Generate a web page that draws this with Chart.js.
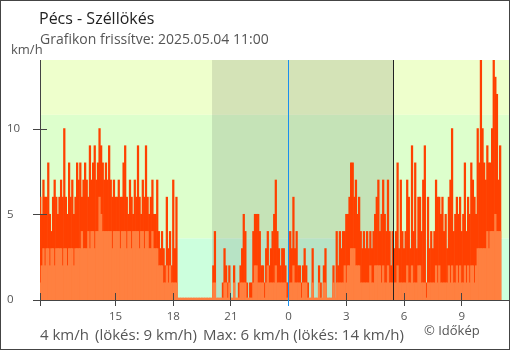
<!DOCTYPE html>
<html>
<head>
<meta charset="utf-8">
<script src="https://cdn.jsdelivr.net/npm/chart.js@4.4.1/dist/chart.umd.min.js"></script>
<style>
  html, body { margin: 0; padding: 0; background: #fff; }
  #wrap { position: relative; width: 510px; height: 350px; overflow: hidden; font-family: "Open Sans", sans-serif; color: #555; }
  #wrap canvas { position: absolute; left: 0; top: 0; }
  .txt { position: absolute; white-space: pre; line-height: 1; }
  #frame { position: absolute; left: 0; top: 0; width: 510px; height: 350px; box-sizing: border-box; border: 1px solid #444; pointer-events: none; }
</style>
</head>
<body>
<div id="wrap">
  <canvas id="chart" width="510" height="350"></canvas>
  <div class="txt" style="left:39px; top:10px; font-size:16px; color:#222;">Pécs - Széllökés</div>
  <div class="txt" style="left:40px; top:32px; font-size:14px;">Grafikon frissítve: 2025.05.04 11:00</div>
  <div class="txt" style="left:11px; top:43px; font-size:13px;">km/h</div>
  <div class="txt" style="left:40px; top:327px; font-size:15px;">4 km/h</div>
  <div class="txt" style="left:95px; top:327px; font-size:15px;">(lökés: 9 km/h)</div>
  <div class="txt" style="left:203px; top:327px; font-size:15px;">Max: 6 km/h (lökés: 14 km/h)</div>
  <div class="txt" style="left:424px; top:324px; font-size:13px;">© Időkép</div>
  <div id="frame"></div>
</div>
<script>
// 5-minute readings, from 11:05 (03 May) to 11:00 (04 May), one row per hour
const gust = [
  6,5,7,6,6,8,5,4,6,7,6,5,
  6,7,6,10,6,5,8,6,7,5,6,8,
  7,8,6,7,8,7,6,9,7,8,9,7,
  8,10,9,8,7,8,7,9,7,6,7,6,
  6,7,6,6,8,9,6,5,7,6,5,7,
  6,9,6,5,7,6,9,6,5,6,7,5,
  5,7,4,3,4,3,2,6,3,4,2,7,
  3,6,0,0,0,0,0,0,0,0,0,0,
  0,0,0,0,0,0,0,0,0,0,0,0,
  2,4,0,0,0,0,1,3,2,1,2,0,
  0,2,0,0,1,2,3,5,4,1,0,1,
  1,4,5,5,5,4,2,2,1,3,4,2,
  3,4,5,7,4,3,2,3,3,2,1,1,
  4,3,6,3,4,2,2,1,2,3,2,1,
  0,0,3,0,0,0,2,1,0,2,3,0,
  0,0,0,2,0,4,2,4,3,4,4,5,
  5,6,8,8,6,7,5,6,4,3,4,3,
  4,3,4,3,4,5,6,7,4,5,7,5,
  4,7,4,2,4,3,4,8,3,7,4,3,
  4,7,6,3,9,4,8,3,6,6,4,7,
  9,1,6,3,4,3,4,7,6,6,5,6,
  4,5,3,6,7,10,4,5,6,5,6,4,
  5,8,4,6,5,8,7,6,5,10,8,14,
  10,8,7,9,8,8,10,14,13,12,7,9
];
const wind = [
  1,2,3,2,3,3,2,3,3,2,3,3,
  3,3,2,3,3,2,3,3,3,2,3,3,
  3,3,4,3,3,3,4,3,4,4,3,4,
  4,6,5,4,4,4,4,4,4,3,4,4,
  4,4,3,4,4,4,3,4,4,3,4,4,
  4,4,3,4,4,3,4,4,3,3,4,3,
  3,3,2,2,2,1,1,2,1,2,1,1,
  1,1,0,0,0,0,0,0,0,0,0,0,
  0,0,0,0,0,0,0,0,0,0,0,0,
  1,1,0,0,0,0,0,1,1,0,1,0,
  0,1,0,0,0,1,1,1,1,0,0,0,
  0,1,2,2,1,1,1,1,0,1,2,1,
  1,1,1,2,1,1,1,1,1,1,0,0,
  1,1,2,1,1,1,1,0,1,1,1,0,
  0,0,1,0,0,0,1,0,0,1,1,0,
  0,0,0,1,0,1,1,1,1,1,2,1,
  2,2,3,3,3,2,2,2,1,1,1,1,
  1,1,2,1,1,2,2,2,2,1,2,1,
  1,2,1,1,1,1,1,2,1,1,1,1,
  1,2,1,1,2,1,1,1,2,2,1,1,
  1,0,1,1,1,1,1,2,1,2,1,1,
  1,1,1,2,1,2,1,1,2,1,2,1,
  1,2,1,2,1,2,2,1,2,3,3,3,
  3,3,3,4,3,4,4,4,5,4,4,4
];
// hours relative to midnight of 04 May
const startHour = -(12 + 55 / 60);   // 11:05
const stepHour = 5 / 60;
const xMin = -12.93, xMax = 11.46;
const tickHours = [-9, -6, -3, 0, 3, 6, 9];
const yTicks = [0, 5, 10];
const bandLimits = [3.6, 10.8];
const bandColors = ['#ccffdd', '#ddffcc', '#eeffcc'];
const sunset = -(3 + 59 / 60);       // 20:01
const sunrise = 5 + 26 / 60;         // 05:26

const times = gust.map((_, i) => startHour + i * stepHour);
const toPoints = arr => arr.map((v, i) => ({ x: times[i], y: v }));

const backdrop = {
  id: 'backdrop',
  beforeDraw(chart) {
    const { ctx, chartArea: a, scales: { x, y } } = chart;
    ctx.save();
    const edges = [0, ...bandLimits, y.max];
    for (let i = 0; i < bandColors.length; i++) {
      const top = y.getPixelForValue(edges[i + 1]);
      const bot = y.getPixelForValue(edges[i]);
      ctx.fillStyle = bandColors[i];
      ctx.fillRect(a.left, top, a.right - a.left, bot - top);
    }
    const n0 = x.getPixelForValue(sunset), n1 = x.getPixelForValue(sunrise);
    ctx.fillStyle = 'rgba(60,60,60,0.14)';
    ctx.fillRect(n0, a.top, n1 - n0, a.bottom - a.top);
    ctx.restore();
  },
  afterDraw(chart) {
    const { ctx, chartArea: a, scales: { x, y } } = chart;
    ctx.save();
    ctx.lineWidth = 1;
    ctx.strokeStyle = '#444';
    ctx.beginPath();
    [xMin, ...tickHours].forEach(v => {
      const px = Math.floor(x.getPixelForValue(v)) + 0.5;
      ctx.moveTo(px, a.bottom - 7); ctx.lineTo(px, a.bottom + 6);
    });
    yTicks.forEach(v => {
      const py = Math.round(y.getPixelForValue(v)) + 0.5;
      ctx.moveTo(a.left - 7, py); ctx.lineTo(a.left + 7, py);
    });
    ctx.stroke();
    const vline = (v, col, extra) => {
      const px = Math.floor(x.getPixelForValue(v)) + 0.5;
      ctx.strokeStyle = col;
      ctx.beginPath(); ctx.moveTo(px, a.top); ctx.lineTo(px, a.bottom + extra); ctx.stroke();
    };
    vline(0, '#1a8fee', 6);
    vline(sunrise, '#222', 0);
    ctx.restore();
  }
};

Chart.defaults.font.family = '"Open Sans", sans-serif';

new Chart(document.getElementById('chart'), {
  type: 'bar',
  data: {
    datasets: [
      { label: 'Szél', data: toPoints(wind), backgroundColor: '#ff8040', grouped: false,
        minBarLength: 2, barPercentage: 1, categoryPercentage: 1, borderWidth: 0 },
      { label: 'Széllökés', data: toPoints(gust), backgroundColor: '#ff4000', grouped: false,
        barPercentage: 1, categoryPercentage: 1, borderWidth: 0 }
    ]
  },
  options: {
    responsive: false,
    animation: false,
    devicePixelRatio: 1,
    layout: { padding: { left: 7, top: 60, right: 1, bottom: 0 } },
    plugins: { legend: { display: false }, tooltip: { enabled: false } },
    scales: {
      x: {
        type: 'linear', min: xMin, max: xMax, offset: false,
        grid: { display: false },
        border: { display: true, color: '#444' },
        afterBuildTicks: s => { s.ticks = [xMin, ...tickHours].map(v => ({ value: v })); },
        ticks: {
          autoSkip: false, maxRotation: 0, padding: 2, color: '#555',
          font: { size: 11.5 },
          callback: v => Number.isInteger(v) ? String((v + 24) % 24) : ''
        },
        afterFit: s => { s.height = 50; }
      },
      y: {
        min: 0, max: 14,
        grid: { display: false },
        border: { display: true, color: '#444' },
        afterBuildTicks: s => { s.ticks = yTicks.map(v => ({ value: v })); },
        ticks: { crossAlign: 'far', padding: 0, color: '#555', font: { size: 11.5 } },
        afterFit: s => { s.width = 33; }
      }
    }
  },
  plugins: [backdrop]
});
</script>
</body>
</html>
